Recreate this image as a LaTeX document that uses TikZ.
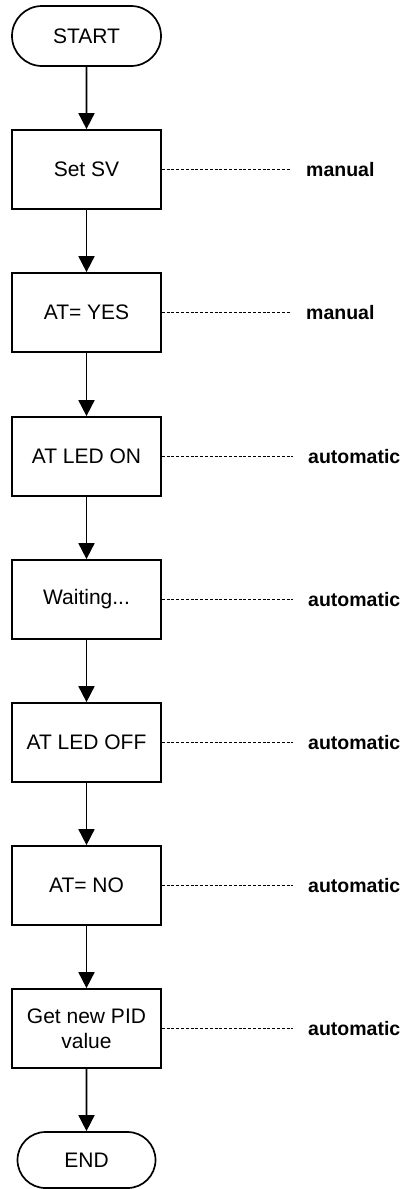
\documentclass[tikz,border=0pt]{standalone}
\usepackage{fontspec}
\setmainfont{Liberation Sans}
\usetikzlibrary{arrows.meta,shapes.misc}
\begin{document}
\begin{tikzpicture}[x=1pt,y=-1pt,
  every node/.style={font=\fontsize{21}{25}\selectfont},
  procbox/.style={draw,line width=1.7pt,minimum width=149pt,minimum height=79pt,inner sep=0pt,align=center},
  termbox/.style={draw,line width=1.7pt,rounded rectangle,inner sep=0pt},
  flow/.style={line width=1.7pt,-{Triangle[width=16pt,length=16pt]}},
  guide/.style={line width=1.2pt,dash pattern=on 3pt off 1.8pt},
  note/.style={anchor=west,inner sep=0pt,font=\fontsize{19.5}{24}\selectfont\bfseries}]
\useasboundingbox (0,0) rectangle (407,1189);
\node[termbox,minimum width=149pt,minimum height=60pt] (start) at (86.5,36) {START};
\node[procbox] (b1) at (86.5,169.5) {Set SV};
\node[procbox] (b2) at (86.5,312.5) {AT= YES};
\node[procbox] (b3) at (86.5,456.5) {AT LED ON};
\node[procbox] (b4) at (86.5,599.5) {Waiting...};
\node[procbox] (b5) at (86.5,742.5) {AT LED OFF};
\node[procbox] (b6) at (86.5,885.5) {AT= NO};
\node[procbox] (b7) at (86.5,1028.5) {Get new PID\\value};
\node[termbox,minimum width=138pt,minimum height=56pt] (end) at (86.5,1160) {END};
\draw[flow] (start) -- (b1);
\draw[flow] (b1) -- (b2);
\draw[flow] (b2) -- (b3);
\draw[flow] (b3) -- (b4);
\draw[flow] (b4) -- (b5);
\draw[flow] (b5) -- (b6);
\draw[flow] (b6) -- (b7);
\draw[flow] (b7) -- (end);
\node[note] (l1) at (306,169.5) {manual};
\node[note] (l2) at (306,312.5) {manual};
\node[note] (l3) at (308,456.5) {automatic};
\node[note] (l4) at (308,599.5) {automatic};
\node[note] (l5) at (308,742.5) {automatic};
\node[note] (l6) at (308,885.5) {automatic};
\node[note] (l7) at (308,1028.5) {automatic};
\foreach \i in {1,...,7} {
  \draw[guide] (b\i.east) -- ([xshift=-15pt]l\i.west);
}
\end{tikzpicture}
\end{document}
